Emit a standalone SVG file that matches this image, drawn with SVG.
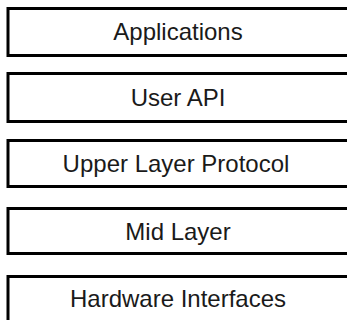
<svg xmlns="http://www.w3.org/2000/svg" width="347" height="320" viewBox="0 0 347 320">
  <style>
    .layer rect { fill: #ffffff; stroke: #000000; stroke-width: 3; }
    .layer text { font-family: "Liberation Sans", Arial, sans-serif; font-size: 24px; fill: #1a1a1a; text-anchor: middle; }
  </style>
  <rect x="0" y="0" width="347" height="320" fill="#ffffff"/>
  <g id="connectors"></g>
  <g id="applications" class="layer">
    <rect x="8" y="8.5" width="344" height="47"/>
    <text x="178" y="40">Applications</text>
  </g>
  <g id="user-api" class="layer">
    <rect x="8" y="73.5" width="344" height="48"/>
    <text x="178" y="106">User API</text>
  </g>
  <g id="upper-layer-protocol" class="layer">
    <rect x="8" y="140.5" width="344" height="46"/>
    <text x="176" y="172">Upper Layer Protocol</text>
  </g>
  <g id="mid-layer" class="layer">
    <rect x="8" y="208.5" width="344" height="45"/>
    <text x="178" y="239.5">Mid Layer</text>
  </g>
  <g id="hardware-interfaces" class="layer">
    <rect x="8" y="276.5" width="344" height="47"/>
    <text x="178" y="307">Hardware Interfaces</text>
  </g>
</svg>
